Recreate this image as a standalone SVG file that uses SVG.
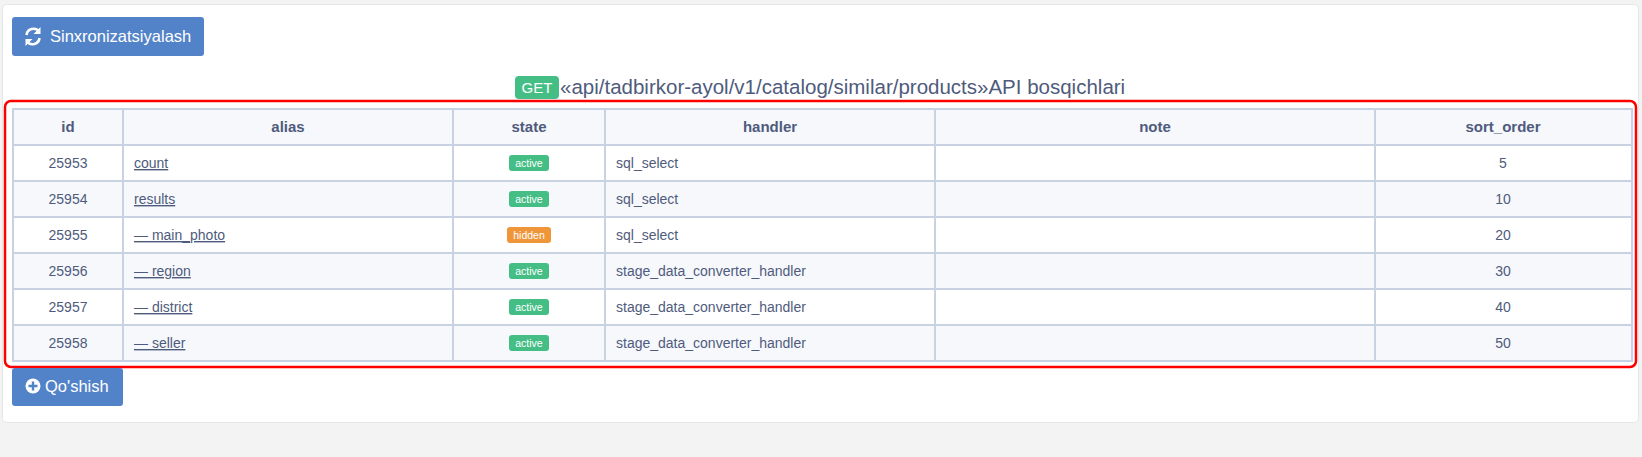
<svg xmlns="http://www.w3.org/2000/svg" width="1642" height="457" viewBox="0 0 1642 457">
<style>
text{font-family:"Liberation Sans",Arial,sans-serif;fill:#4f5b7c}
.h{font-weight:bold;font-size:15px;text-anchor:middle}
.c{font-size:14px}
.m{text-anchor:middle}
.u{text-decoration:underline}
.g{stroke:#c9d2e2;stroke-width:2;fill:none}
.bt{fill:#5283c8}
.bw{fill:#fff;font-size:16.5px}
.bd{fill:#fff;font-size:10.5px;text-anchor:middle}
</style>
<rect width="1642" height="457" fill="#f3f3f3"/>
<rect x="2.5" y="4.5" width="1636" height="418" rx="4" fill="#fff" stroke="#e6e6e6"/>
<g id="sync-button">
<rect class="bt" x="12" y="17" width="192" height="39" rx="3"/>
<g fill="none" stroke="#fff" stroke-width="2.6">
<path d="M26.5 35 a7 7 0 0 1 12.5 -3.5"/><path d="M39.5 38 a7 7 0 0 1 -12.5 3.5"/>
</g>
<path d="M40.5 27 v7 h-7 z M25.5 46 v-7 h7 z" fill="#fff"/>
<text class="bw" x="50" y="42">Sinxronizatsiyalash</text>
</g>
<g id="title">
<rect x="515" y="76" width="44" height="23" rx="4" fill="#45be85"/>
<text x="537" y="93" style="fill:#fff;font-size:15px" text-anchor="middle">GET</text>
<text x="560" y="94" style="font-size:20.5px">«api/tadbirkor-ayol/v1/catalog/similar/products»API bosqichlari</text>
</g>
<rect x="5" y="101" width="1631" height="266" rx="6" fill="none" stroke="#f00" stroke-width="2.5"/>
<g id="table">
<rect x="13" y="109" width="1619" height="36" fill="#f6f8fc"/>
<rect x="13" y="181" width="1619" height="36" fill="#f6f8fc"/>
<rect x="13" y="253" width="1619" height="36" fill="#f6f8fc"/>
<rect x="13" y="325" width="1619" height="36" fill="#f6f8fc"/>
<rect x="13" y="145" width="1619" height="36" fill="#fff"/>
<rect x="13" y="217" width="1619" height="36" fill="#fff"/>
<rect x="13" y="289" width="1619" height="36" fill="#fff"/>
<g class="g">
<rect x="13" y="109" width="1619" height="252"/>
<path d="M13 145H1632M13 181H1632M13 217H1632M13 253H1632M13 289H1632M13 325H1632"/>
<path d="M123 109V361M453 109V361M605 109V361M935 109V361M1375 109V361"/>
</g>
<g id="header">
<text class="h" x="68" y="132">id</text>
<text class="h" x="288" y="132">alias</text>
<text class="h" x="529" y="132">state</text>
<text class="h" x="770" y="132">handler</text>
<text class="h" x="1155" y="132">note</text>
<text class="h" x="1503" y="132">sort_order</text>
</g>
<g id="rows" class="c">
<text class="c m" x="68" y="168">25953</text>
<text class="c u" x="134" y="168">count</text>
<rect x="509" y="155" width="40" height="16" rx="3" fill="#45be85"/><text class="bd" x="529" y="167">active</text>
<text class="c" x="616" y="168">sql_select</text>
<text class="c m" x="1503" y="168">5</text>

<text class="c m" x="68" y="204">25954</text>
<text class="c u" x="134" y="204">results</text>
<rect x="509" y="191" width="40" height="16" rx="3" fill="#45be85"/><text class="bd" x="529" y="203">active</text>
<text class="c" x="616" y="204">sql_select</text>
<text class="c m" x="1503" y="204">10</text>

<text class="c m" x="68" y="240">25955</text>
<text class="c u" x="134" y="240">— main_photo</text>
<rect x="507" y="227" width="44" height="16" rx="3" fill="#f0963a"/><text class="bd" x="529" y="239">hidden</text>
<text class="c" x="616" y="240">sql_select</text>
<text class="c m" x="1503" y="240">20</text>

<text class="c m" x="68" y="276">25956</text>
<text class="c u" x="134" y="276">— region</text>
<rect x="509" y="263" width="40" height="16" rx="3" fill="#45be85"/><text class="bd" x="529" y="275">active</text>
<text class="c" x="616" y="276">stage_data_converter_handler</text>
<text class="c m" x="1503" y="276">30</text>

<text class="c m" x="68" y="312">25957</text>
<text class="c u" x="134" y="312">— district</text>
<rect x="509" y="299" width="40" height="16" rx="3" fill="#45be85"/><text class="bd" x="529" y="311">active</text>
<text class="c" x="616" y="312">stage_data_converter_handler</text>
<text class="c m" x="1503" y="312">40</text>

<text class="c m" x="68" y="348">25958</text>
<text class="c u" x="134" y="348">— seller</text>
<rect x="509" y="335" width="40" height="16" rx="3" fill="#45be85"/><text class="bd" x="529" y="347">active</text>
<text class="c" x="616" y="348">stage_data_converter_handler</text>
<text class="c m" x="1503" y="348">50</text>
</g>
</g>
<g id="add-button">
<rect class="bt" x="12" y="368" width="111" height="38" rx="3"/>
<circle cx="33" cy="386" r="7.5" fill="#fff"/>
<path d="M33 381.5v9M28.5 386h9" stroke="#5283c8" stroke-width="2.4"/>
<text class="bw" x="45" y="392">Qo'shish</text>
</g>
</svg>
